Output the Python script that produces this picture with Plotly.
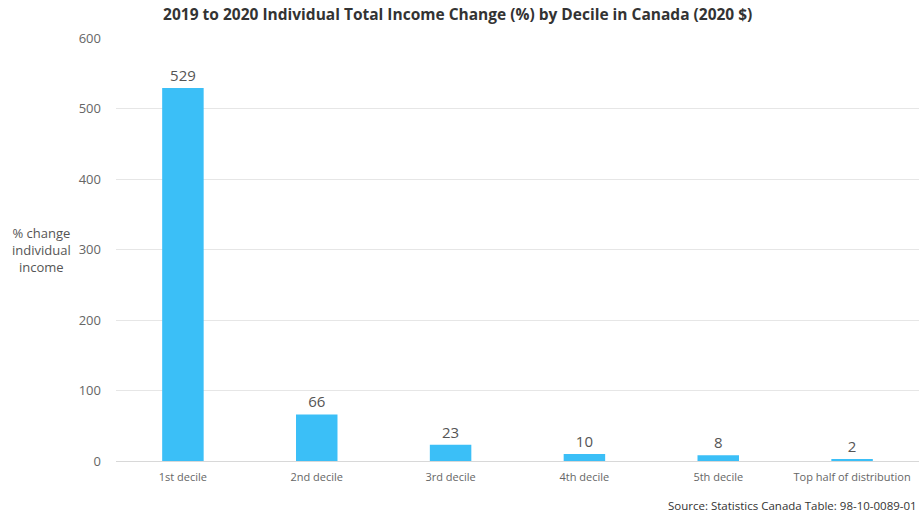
import plotly.graph_objects as go

categories = ["1st decile", "2nd decile", "3rd decile", "4th decile", "5th decile", "Top half of distribution"]
values = [529, 66, 23, 10, 8, 2]
y_ticks = [0, 100, 200, 300, 400, 500, 600]

FONT = "Open Sans, sans-serif"

fig = go.Figure(go.Bar(
    x=categories, y=values,
    width=0.31,
    marker=dict(color="#3BBFF7", line=dict(width=0)),
    text=[str(v) for v in values], textposition="outside",
    textfont=dict(family=FONT, size=15, color="#555555"),
    cliponaxis=False,
))

fig.update_layout(
    width=921, height=514,
    margin=dict(l=116, r=2, t=38, b=53),
    paper_bgcolor="white", plot_bgcolor="white",
    showlegend=False,
    title=dict(text="<b>2019 to 2020 Individual Total Income Change (%) by Decile in Canada (2020 $)</b>",
               x=0.497, xref="container", xanchor="center", y=0.972, yanchor="middle",
               font=dict(family=FONT, size=15.5, color="#333333")),
    bargap=0.5,
    font=dict(family=FONT),
)
fig.update_xaxes(tickfont=dict(family=FONT, size=11, color="#666666"),
                 showline=False, ticks="", showgrid=False, ticklabelstandoff=8)
fig.update_yaxes(range=[0, 600], tickvals=y_ticks, showgrid=True, gridcolor="#e6e6e6",
                 zeroline=True, zerolinecolor="#d8d8d8", zerolinewidth=1,
                 tickfont=dict(family=FONT, size=13, color="#666666"), ticks="",
                 ticklabelstandoff=14)
fig.add_annotation(text="% change<br>individual<br>income", xref="paper", yref="paper",
                   x=-0.053, y=0.5, xanchor="right", yanchor="middle", showarrow=False, align="center",
                   font=dict(family=FONT, size=13, color="#555555"))
fig.add_annotation(text="Source: Statistics Canada Table: 98-10-0089-01", xref="paper", yref="paper",
                   x=1.0, y=-0.106, xanchor="right", yanchor="middle", showarrow=False,
                   font=dict(family=FONT, size=11.5, color="#333333"))
fig.write_html("out.html")
